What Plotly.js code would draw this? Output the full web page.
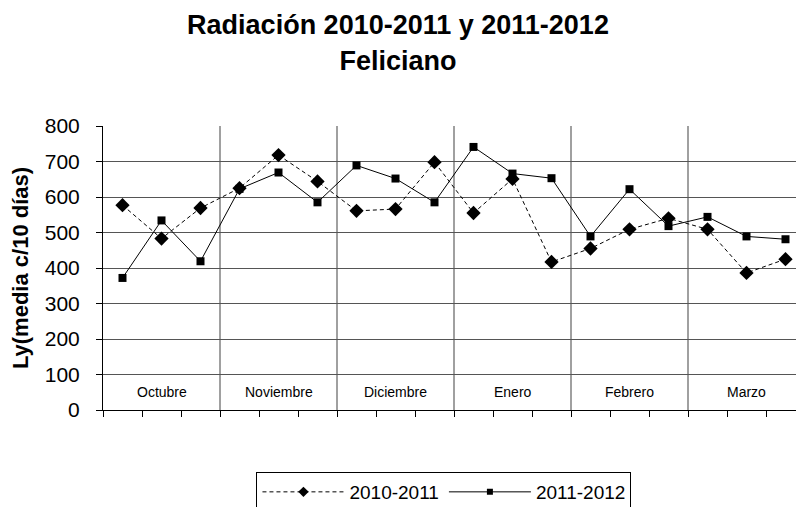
<!DOCTYPE html>
<html>
<head>
<meta charset="utf-8">
<script src="https://cdn.plot.ly/plotly-3.0.1.min.js"></script>
<style>html,body{margin:0;padding:0;background:#fff;}</style>
</head>
<body>
<div id="chart" style="width:796px;height:507px;"></div>
<script>
const months = ["Octubre", "Noviembre", "Diciembre", "Enero", "Febrero", "Marzo"];
const periodsPerMonth = 3;
const serieNames = ["2010-2011", "2011-2012"];
const values2010_2011 = [577, 483, 569, 625, 718, 644, 561, 566, 698, 555, 651, 417, 455, 509, 540, 509, 386, 425];
const values2011_2012 = [372, 534, 419, 623, 669, 585, 689, 652, 585, 741, 666, 653, 489, 622, 518, 544, 489, 481];
const yTickVals = [0, 100, 200, 300, 400, 500, 600, 700, 800];

const n = values2010_2011.length;
const xIdx = values2010_2011.map((_, i) => i);
const boundaries = Array.from({length: n + 1}, (_, i) => i - 0.5);
const font = "Arial, 'Liberation Sans', sans-serif";

const styles = [
  {line: {color: "#000", width: 1, dash: "4px,3px"}, symbol: "diamond", size: 11, legendSize: 8},
  {line: {color: "#000", width: 1}, symbol: "square", size: 8, legendSize: 6}
];
const seriesVals = [values2010_2011, values2011_2012];

const traces = [];
seriesVals.forEach((vals, k) => {
  traces.push({
    x: xIdx, y: vals, name: serieNames[k], type: "scatter", mode: "lines+markers",
    line: styles[k].line, showlegend: false,
    marker: {symbol: styles[k].symbol, size: styles[k].size, color: "#000"}
  });
});
seriesVals.forEach((vals, k) => {
  traces.push({
    x: [null], y: [null], name: serieNames[k], type: "scatter", mode: "lines+markers",
    line: styles[k].line, showlegend: true,
    marker: {symbol: styles[k].symbol, size: styles[k].legendSize, color: "#000"}
  });
});

const shapes = months.slice(1).map((m, k) => ({
  type: "line", xref: "x", yref: "y",
  x0: (k + 1) * periodsPerMonth - 0.5, x1: (k + 1) * periodsPerMonth - 0.5,
  y0: 0, y1: 800, layer: "below",
  line: {color: "#808080", width: 1.5}
}));

const annotations = months.map((m, k) => ({
  x: k * periodsPerMonth + (periodsPerMonth - 1) / 2, y: 50, xref: "x", yref: "y",
  text: m, showarrow: false, font: {family: font, size: 14, color: "#000"}
}));

const layout = {
  width: 796, height: 507,
  margin: {l: 103, r: 0, t: 126, b: 97},
  paper_bgcolor: "#fff", plot_bgcolor: "#fff",
  title: {
    text: "<b>Radiación 2010-2011 y 2011-2012<br>Feliciano</b>",
    font: {family: font, size: 27, color: "#000"},
    x: 0.5, xanchor: "center", y: 0.932, yanchor: "top"
  },
  xaxis: {
    range: [-0.5, -0.5 + 693 / 39],
    tickmode: "array", tickvals: boundaries, ticktext: boundaries.map(() => ""),
    ticks: "outside", ticklen: 6, tickcolor: "#000", tickwidth: 1,
    showgrid: false, zeroline: false, showline: true, linecolor: "#000", linewidth: 1,
    fixedrange: true
  },
  yaxis: {
    range: [0, 800], tickmode: "array", tickvals: yTickVals,
    ticks: "outside", ticklen: 6, tickcolor: "#000", tickwidth: 1,
    ticklabelstandoff: 12,
    tickfont: {family: font, size: 21, color: "#000"},
    showgrid: true, gridcolor: "#555", gridwidth: 1,
    zeroline: false, showline: true, linecolor: "#000", linewidth: 1,
    title: {text: "<b>Ly(media c/10 días)</b>", font: {family: font, size: 22, color: "#000"}, standoff: 10},
    fixedrange: true
  },
  shapes: shapes,
  annotations: annotations,
  showlegend: true,
  legend: {
    orientation: "h", x: 0.492, xanchor: "center",
    yref: "container", y: 1 - 472 / 507, yanchor: "top",
    bordercolor: "#000", borderwidth: 1, bgcolor: "#fff",
    font: {family: font, size: 19, color: "#000"},
    itemwidth: 82, tracegroupgap: 0
  }
};

Plotly.newPlot("chart", traces, layout, {displayModeBar: false, staticPlot: true});
</script>
</body>
</html>
